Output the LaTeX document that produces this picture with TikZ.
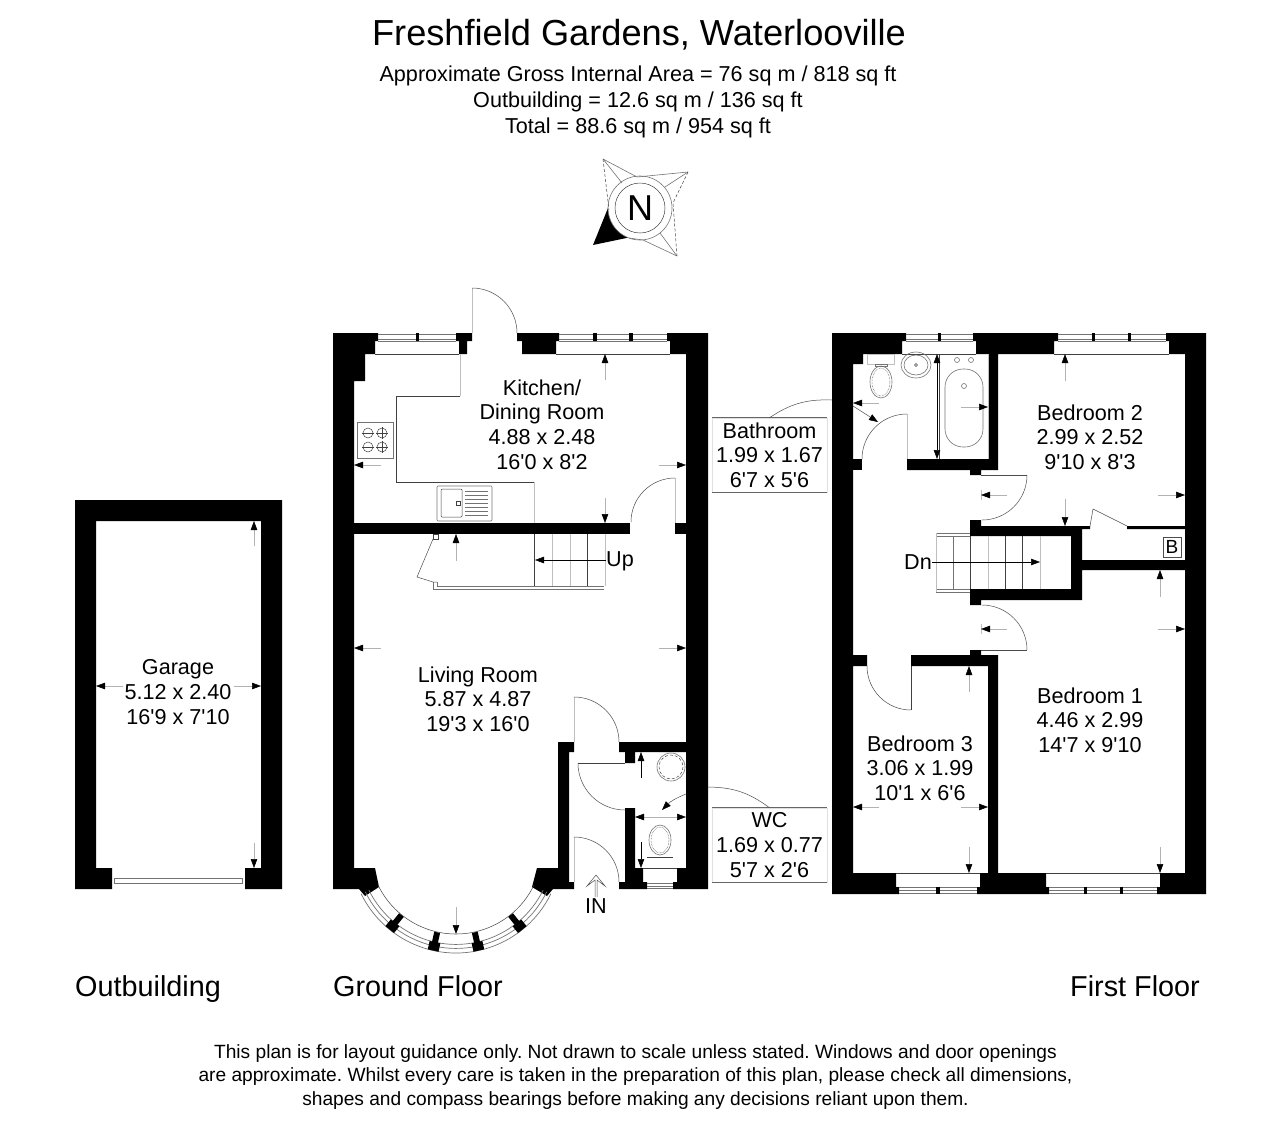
\documentclass[tikz,border=0pt]{standalone}
\usepackage{fontspec}
\setmainfont{Liberation Sans}[Ligatures=TeXOff]
\usetikzlibrary{arrows.meta,positioning}

\begin{document}
\frenchspacing
\begin{tikzpicture}[x=1pt,y=-1pt]
    \tikzset{wall/.style= {fill=black, draw=none}
    , fine/.style= {draw=black!75, line width=0.5pt}
    , pale/.style= {draw=black!25, line width=0.5pt}
    , swing/.style= {draw=black!70, line width=0.5pt}
    , fixture/.style= {draw=black!55, line width=0.6pt}
    , glass/.style= {draw=black!55, line width=0.7pt}
    , dimline/.style= {draw=black!30, line width=0.5pt, -{Triangle[black,length=9pt,width=6.5pt]}}
    , darkline/.style= {draw=black, line width=0.5pt, -{Triangle[black,length=9pt,width=6.5pt]}}
    , pierneck/.style= {draw=black, line width=6pt}
    , pierhead/.style= {draw=black, line width=11pt}
    , room/.style= {align=center, inner sep=0pt, font=\fontsize{21.6}{24.6}\selectfont}
    , labelbox/.style= {room, minimum width=115pt, minimum height=74pt, draw=black!12, line width=0.5pt}
    , floorname/.style= {inner sep=0pt, anchor=base west, font=\fontsize{28.8}{34}\selectfont}
    }
\useasboundingbox (0,0) rectangle (1280,1122);

% headings
\node [inner sep=0pt, font=\fontsize{36.2}{40}\selectfont] (title) at (639,35) {Freshfield Gardens, Waterlooville};
\node [align=center, inner sep=0pt, font=\fontsize{21.6}{26.3}\selectfont] (areas) at (638,102) {Approximate Gross Internal Area = 76 sq m / 818 sq ft\\Outbuilding = 12.6 sq m / 136 sq ft\\Total = 88.6 sq m / 954 sq ft};

% compass
\fill [black] (593,245) -- (608,208) arc[start angle=180,end angle=112,radius=32] -- cycle;
\draw [fine] (640,208) circle[radius=25];
\draw [fixture] (640,208) circle[radius=32];
\draw [fixture] (603,159) -- (637,177) -- (688,172) (677,256) -- (643,240) -- (629,238);
\draw [fixture] (603,159) -- (622,183) (688,172) -- (665,187) (677,256) -- (660,233);
\draw [fine, densely dashed] (603,159) -- (609,210) (688,172) -- (673,203) -- (677,256);
\node [inner sep=0pt, font=\fontsize{36}{40}\selectfont] (north) at (640,208) {N};

% outbuilding
\fill [wall] (75,500) -- (282,500) -- (282,889) -- (245,889) -- (245,868) -- (261,868) -- (261,521) -- (96,521) -- (96,868) -- (112,868) -- (112,889) -- (75,889) -- cycle;
\draw [glass] (114,878) rectangle (242,883);
\node [room] (garage) at (178,692) {Garage\\5.12 x 2.40\\16'9 x 7'10};
\draw [dimline] (254,546) -- (254,521);
\draw [dimline] (254,843) -- (254,868);
\draw [dimline] (123,686) -- (96,686);
\draw [dimline] (234,686) -- (261,686);

% ground floor walls
\fill [wall] (333,333) -- (378,333) -- (378,341) -- (375,341) -- (375,354) -- (365,354) -- (365,381) -- (354,381) -- (354,868) -- (375,868) -- (379,887) -- (365,896) -- (359,889) -- (333,889) -- cycle;
\fill [wall] (456,333) -- (472,333) -- (472,341) -- (467,341) -- (467,354) -- (459,354) -- (459,341) -- (456,341) -- cycle;
\fill [wall] (517,333) -- (559,333) -- (559,341) -- (556,341) -- (556,354) -- (522,354) -- (522,341) -- (517,341) -- cycle;
\fill [wall] (667,333) -- (708,333) -- (708,889) -- (673,889) -- (673,882) -- (677,882) -- (677,868) -- (686,868) -- (686,752) -- (635,752) -- (635,763) -- (625,763) -- (625,752) -- (619,752) -- (619,742) -- (686,742) -- (686,354) -- (670,354) -- (670,341) -- (667,341) -- cycle;
\fill [wall] (625,808) -- (635,808) -- (635,868) -- (643,868) -- (643,882) -- (647,882) -- (647,889) -- (619,889) -- (619,882) -- (625,882) -- cycle;
\fill [wall] (574,742) -- (558,742) -- (558,868) -- (537,868) -- (532,887) -- (547,896) -- (553,889) -- (574,889) -- (574,882) -- (569,882) -- (569,752) -- (574,752) -- cycle;
\fill [wall] (354,523) rectangle (630,534);
\fill [wall] (675,523) rectangle (686,534);

% ground floor windows
\draw [glass] (378,334) -- (456,334) (378,339) -- (456,339) (378,341) -- (456,341);
\fill [wall] (416,333) rectangle (419,341);
\draw [glass] (559,334) -- (667,334) (559,339) -- (667,339) (559,341) -- (667,341);
\fill [wall] (593,333) rectangle (597,341);
\fill [wall] (629,333) rectangle (633,341);
\draw [fine] (375,354) -- (459,354) (556,354) -- (670,354);
\draw [glass] (647,883) -- (673,883) (647,886) -- (673,886) (647,888.5) -- (673,888.5);
\draw [fine] (643,868) -- (677,868);

% bay window
\begin{scope}[shift={(456,847.4)}]
\draw [fine] (26:86.6) arc[start angle=26,end angle=154,radius=86.6];
\draw [glass] (26:97) arc[start angle=26,end angle=154,radius=97];
\draw [glass] (26:101) arc[start angle=26,end angle=154,radius=101];
\draw [glass] (26:105.6) arc[start angle=26,end angle=154,radius=105.6];
\draw [pierneck] (51.1:87) -- (51.1:98) (77.5:87) -- (77.5:98) (102.5:87) -- (102.5:98) (128.9:87) -- (128.9:98);
\draw [pierhead] (51.1:97) -- (51.1:105.6) (77.5:97) -- (77.5:105.6) (102.5:97) -- (102.5:105.6) (128.9:97) -- (128.9:105.6);
\end{scope}

% ground floor doors
\draw [pale] (472,288) -- (472,333);
\draw [swing] (472,288) arc[start angle=-90,end angle=0,radius=45];
\draw [pale] (675,478) -- (675,523);
\draw [swing] (675,478) arc[start angle=-90,end angle=-180,radius=44];
\draw [pale] (574,697) -- (574,742);
\draw [swing] (574,697) arc[start angle=-90,end angle=0,radius=45];
\draw [pale] (574,837) -- (574,882);
\draw [swing] (574,837) arc[start angle=-90,end angle=0,radius=45];
\draw [fine] (578,763) -- (625,763);
\draw [swing] (578,763) arc[start angle=180,end angle=90,radius=47];

% kitchen fittings
\draw [fine] (460,396) -- (396,396) -- (396,482) -- (534,482);
\draw [pale] (460,354) -- (460,396) (534,482) -- (534,523);
\draw [fixture] (357,422) rectangle (393,458);
\draw [fine] (368,433) circle[radius=5];
\draw [fine] (382,433) circle[radius=5];
\draw [fine] (368,447) circle[radius=5];
\draw [fine] (382,447) circle[radius=5];
\draw [fine] (362,433) -- (374,433) (376,433) -- (388,433) (382,427) -- (382,439);
\draw [fine] (362,447) -- (374,447) (376,447) -- (388,447) (382,441) -- (382,453);
\draw [fixture, rounded corners=1pt] (437,486) rectangle (492,521);
\draw [fine, rounded corners=1pt] (441,489) rectangle (462,517);
\draw [fine] (456,501) rectangle (460,505);
\draw [fixture] (465,491) -- (488,491) (465,495) -- (488,495) (465,499) -- (488,499) (465,503) -- (488,503) (465,507) -- (488,507) (465,511) -- (488,511) (465,515) -- (488,515);

% stairs up
\draw [fine] (534,534) -- (534,586) (587,534) -- (587,586);
\draw [pale] (552,534) -- (552,586) (570,534) -- (570,586) (605,534) -- (605,586);
\draw [fixture] (437,582) -- (437,586) -- (604,586) (433,582) -- (433,589) -- (604,589);
\draw [fine] (433,534) rectangle (438,539);
\draw [swing] (433,539) -- (417,577) -- (433,582) -- (437,582);
\node [inner sep=0pt, font=\fontsize{21.6}{24}\selectfont] (upsign) at (620,561) {Up};
\draw [darkline] (606,560) -- (535,560);

% ground floor labels
\node [room] (kitchen) at (542,424.5) {Kitchen/\\Dining Room\\4.88 x 2.48\\16'0 x 8'2};
\node [room] (living) at (478,699) {Living Room\\5.87 x 4.87\\19'3 x 16'0};
\draw [dimline] (605,380) -- (605,354);
\draw [dimline] (381,465) -- (354,465);
\draw [dimline] (659,465) -- (686,465);
\draw [dimline] (605,498) -- (605,523);
\draw [dimline] (456,561) -- (456,534);
\draw [dimline] (381,648) -- (354,648);
\draw [dimline] (659,648) -- (686,648);
\draw [dimline] (456,907) -- (456,934);
\node [inner sep=0pt, font=\fontsize{21.6}{24}\selectfont] (insign) at (596,906) {IN};
\draw [swing] (595,897) -- (595,880) -- (587,886) -- (596,875) -- (605,886) -- (597,880) -- (597,897);

% wc
\draw [fixture] (671,767) ellipse[x radius=14, y radius=14];
\draw [fine, densely dashed] (671,767) ellipse[x radius=12, y radius=12];
\draw [fixture] (660,840) ellipse[x radius=11, y radius=15];
\draw [fine, densely dotted] (660,840) ellipse[x radius=9, y radius=13];
\draw [fine] (647,857) -- (673,857);
\draw [darkline] (641,778) -- (641,752);
\draw [darkline] (641,842) -- (641,868);
\draw [dimline, {Triangle[black,length=9pt,width=6.5pt]}-{Triangle[black,length=9pt,width=6.5pt]}] (635,817) -- (686,817);
\node [labelbox] (wclabel) at (769.5,845) {WC\\1.69 x 0.77\\5'7 x 2'6};
\draw [black!60, line width=0.7pt] (wclabel.north west) -- (wclabel.north east) (wclabel.south west) -- (wclabel.south east);
\coordinate (wcwall) at (708,787);
\coordinate (wcwallin) at (686,794);
\coordinate (wcpoint) at (662,810);
\draw [swing] (wclabel.north) to[bend right=18] (wcwall);
\draw [swing, -{Triangle[black,length=9pt,width=6.5pt]}] (wcwallin) to[bend right=12] (wcpoint);

% first floor walls
\fill [wall] (832,333) -- (906,333) -- (906,341) -- (902,341) -- (902,354) -- (863,354) -- (863,364) -- (853,364) -- (853,655) -- (867,655) -- (867,666) -- (853,666) -- (853,873) -- (896,873) -- (896,887) -- (899,887) -- (899,894) -- (832,894) -- cycle;
\fill [wall] (973,333) -- (1058,333) -- (1058,341) -- (1054,341) -- (1054,354) -- (998,354) -- (998,470) -- (981,470) -- (981,475) -- (970,475) -- (970,470) -- (907,470) -- (907,459) -- (988,459) -- (988,354) -- (976,354) -- (976,341) -- (973,341) -- cycle;
\fill [wall] (853,459) rectangle (862,470);
\fill [wall] (1166,333) -- (1206,333) -- (1206,894) -- (1157,894) -- (1157,887) -- (1160,887) -- (1160,873) -- (1185,873) -- (1185,570) -- (1082,570) -- (1082,600) -- (981,600) -- (981,605) -- (970,605) -- (970,589) -- (1071,589) -- (1071,536) -- (981,536) -- (970,536) -- (970,520) -- (981,520) -- (981,526) -- (1090,526) -- (1090,529) -- (1082,529) -- (1082,560) -- (1185,560) -- (1185,529) -- (1127,529) -- (1127,526) -- (1185,526) -- (1185,354) -- (1169,354) -- (1169,341) -- (1166,341) -- cycle;
\fill [wall] (970,650) -- (981,650) -- (981,655) -- (998,655) -- (998,873) -- (1046,873) -- (1046,887) -- (1049,887) -- (1049,894) -- (977,894) -- (977,887) -- (980,887) -- (980,873) -- (988,873) -- (988,666) -- (911,666) -- (911,655) -- (970,655) -- cycle;

% first floor windows
\draw [glass] (906,334) -- (973,334) (906,339) -- (973,339) (906,341) -- (973,341);
\fill [wall] (938,333) rectangle (941,341);
\draw [glass] (1058,334) -- (1166,334) (1058,339) -- (1166,339) (1058,341) -- (1166,341);
\fill [wall] (1092,333) rectangle (1095,341);
\fill [wall] (1128,333) rectangle (1131,341);
\draw [fine] (902,354) -- (976,354) (1054,354) -- (1169,354);
\draw [glass] (899,887) -- (977,887) (899,890) -- (977,890) (899,893) -- (977,893);
\fill [wall] (936,887) rectangle (940,894);
\draw [glass] (1049,887) -- (1157,887) (1049,890) -- (1157,890) (1049,893) -- (1157,893);
\fill [wall] (1084,887) rectangle (1087,894);
\fill [wall] (1120,887) rectangle (1123,894);
\draw [fine] (896,873) -- (980,873) (1046,873) -- (1160,873);

% first floor doors
\draw [pale] (907,414) -- (907,459);
\draw [swing] (907,414) arc[start angle=-90,end angle=-180,radius=45];
\draw [swing] (981,475) -- (1027,475);
\draw [swing] (1027,475) arc[start angle=0,end angle=90,radius=45];
\draw [swing] (981,650) -- (1027,650);
\draw [swing] (1027,650) arc[start angle=0,end angle=-90,radius=45];
\draw [fine, line width=0.7pt] (911,666) -- (911,710);
\draw [swing] (911,710) arc[start angle=90,end angle=180,radius=44];
\draw [swing] (1090,526) -- (1093,509) -- (1127,526);
\draw [pale] (981,490) -- (981,500) (981,624) -- (981,634);

% bathroom fittings
\draw [fine] (939,354) -- (939,459);
\draw [pale] (988,354) -- (988,459);
\draw [fixture, rounded corners=18pt] (945,369) rectangle (983,447);
\draw [fixture] (957,360) circle[radius=2.5];
\draw [fixture] (971,360) circle[radius=2.5];
\draw [fixture] (964,386) circle[radius=2.5];
\draw [fixture] (916,365) ellipse[x radius=15, y radius=13];
\draw [fixture] (916,365) ellipse[x radius=12, y radius=10];
\draw [fine] (916,365) circle[radius=1.5];
\draw [pale] (867,354) rectangle (894,364);
\draw [fixture] (875,364) rectangle (887,366);
\draw [fixture] (881,382) ellipse[x radius=11, y radius=16];
\draw [fine, densely dotted] (881,382) ellipse[x radius=9, y radius=14];
\draw [darkline] (937,406) -- (937,354);
\draw [darkline] (937,406) -- (937,459);
\draw [dimline] (879,403) -- (853,403);
\draw [dimline] (961,407) -- (988,407);
\node [labelbox] (bathlabel) at (769.5,455) {Bathroom\\1.99 x 1.67\\6'7 x 5'6};
\draw [black!60, line width=0.7pt] (bathlabel.north west) -- (bathlabel.north east) (bathlabel.south west) -- (bathlabel.south east);
\coordinate (bathwall) at (832,400);
\coordinate (bathwallin) at (853,406);
\coordinate (bathpoint) at (878,422);
\draw [swing] (bathlabel.north) to[bend left=18] (bathwall);
\draw [swing, -{Triangle[black,length=9pt,width=6.5pt]}] (bathwallin) -- (bathpoint);

% stairs down
\draw [fine] (970,536) -- (970,589) (1005,536) -- (1005,589) (1022,536) -- (1022,589);
\draw [pale] (988,536) -- (988,589) (1040,536) -- (1040,589);
\draw [fixture] (936,533) -- (970,533) (936,536) -- (970,536) (936,589) -- (970,589) (936,592) -- (970,592);
\draw [pale] (936,533) -- (936,592);
\draw [fixture] (953,536) -- (953,589);
\node [inner sep=0pt, font=\fontsize{21.6}{24}\selectfont] (dnsign) at (918,562) {Dn};
\draw [darkline] (dnsign.east) -- (1040,562);

% first floor labels
\node [room] (bedtwo) at (1090,437) {Bedroom 2\\2.99 x 2.52\\9'10 x 8'3};
\node [room] (bedone) at (1090,720) {Bedroom 1\\4.46 x 2.99\\14'7 x 9'10};
\node [room] (bedthree) at (920,768) {Bedroom 3\\3.06 x 1.99\\10'1 x 6'6};
\node [draw=black!70, line width=0.5pt, minimum width=18pt, minimum height=20pt, inner sep=0pt, font=\fontsize{19}{20}\selectfont] (boiler) at (1172,547) {B};
\draw [dimline] (1065,381) -- (1065,354);
\draw [dimline] (1158,495) -- (1185,495);
\draw [dimline] (1065,499) -- (1065,526);
\draw [dimline] (1007,495) -- (981,495);
\draw [dimline] (1160,597) -- (1160,570);
\draw [dimline] (1158,629) -- (1185,629);
\draw [dimline] (1007,629) -- (981,629);
\draw [dimline] (969,692) -- (969,666);
\draw [dimline] (879,807) -- (853,807);
\draw [dimline] (961,807) -- (988,807);
\draw [dimline] (969,847) -- (969,873);
\draw [dimline] (1160,847) -- (1160,873);

% floor names and note
\node [floorname] (outname) at (75,996) {Outbuilding};
\node [floorname] (groundname) at (333,996) {Ground Floor};
\node [floorname, anchor=base east] (firstname) at (1200,996) {First Floor};
\node [align=center, inner sep=0pt, font=\fontsize{19.15}{23.7}\selectfont] (note) at (635.5,1077) {This plan is for layout guidance only. Not drawn to scale unless stated. Windows and door openings\\are approximate. Whilst every care is taken in the preparation of this plan, please check all dimensions,\\shapes and compass bearings before making any decisions reliant upon them.};
\end{tikzpicture}
\end{document}
